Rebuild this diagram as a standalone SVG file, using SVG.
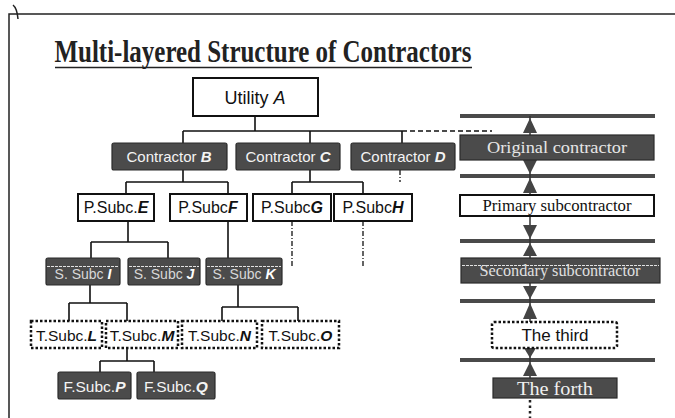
<svg xmlns="http://www.w3.org/2000/svg" width="675" height="418" viewBox="0 0 675 418">
<style>
.frame{fill:none;stroke:#222;stroke-width:1.5}
.ln{fill:none;stroke:#111;stroke-width:1.6}
.dash{fill:none;stroke:#111;stroke-width:1.3;stroke-dasharray:5 3}
.dd{fill:none;stroke:#111;stroke-width:1.3;stroke-dasharray:5 2 1 2}
.dark{fill:#4b4b4b;stroke:#2a2a2a;stroke-width:1.2}
.white{fill:#fff;stroke:#111;stroke-width:2}
.dot{fill:#fff;stroke:#111;stroke-width:2.5;stroke-dasharray:2.5 2}
.t{font-family:"Liberation Sans",Arial,sans-serif;text-anchor:middle}
.tw{fill:#f4f4f4}
.tb{fill:#111}
.L{font-weight:bold;font-style:italic}
.serif{font-family:"Liberation Serif","Times New Roman",serif;text-anchor:middle}
.bar{stroke:#4a4a4a;stroke-width:4}
.ah{fill:#444}
.stripe{stroke:#e2e2e2;stroke-width:1.2;stroke-dasharray:3 1}
</style>

<!-- frame -->
<path class="frame" d="M9,418 V14 H675"/>
<path class="frame" d="M13,5 Q17,8 18,19"/>

<!-- title -->
<g id="title">
<text x="263" y="62" font-family="Liberation Serif,'Times New Roman',serif" font-weight="bold" font-size="32" text-anchor="middle" textLength="417" lengthAdjust="spacingAndGlyphs" fill="#222">Multi-layered Structure of Contractors</text>
<line x1="55" y1="67.5" x2="472" y2="67.5" stroke="#222" stroke-width="1.6"/>
</g>

<!-- connectors -->
<g id="connectors">
<path class="ln" d="M255,116 V131 M183,131 H402 M183,131 V143 M310,131 V143 M402,131 V143"/>
<path class="dash" d="M402,131 H492"/>
<path class="ln" d="M183,170 V182 M126,182 H228 M126,182 V194 M228,182 V194"/>
<path class="ln" d="M310,170 V182 M292,182 H363 M292,182 V194 M363,182 V194"/>
<path class="dd" d="M400,170 V182"/>
<path class="ln" d="M128,221 V242 M91,242 H168 M91,242 V258 M168,242 V258"/>
<path class="ln" d="M228,221 V258"/>
<path class="dd" d="M292,221 V268 M363,221 V268"/>
<path class="ln" d="M90,285 V303 M69,303 H127 M69,303 V321 M127,303 V321"/>
<path class="ln" d="M238,285 V307 M222,307 H298 M222,307 V321 M298,307 V321"/>
<path class="ln" d="M127,348 V361 M100,361 H154 M100,361 V372 M154,361 V372"/>
</g>

<!-- nodes -->
<g id="utilityA"><rect class="white" x="193" y="78" width="125" height="38"/><text class="t tb" x="255" y="104" font-size="18">Utility <tspan font-style="italic">A</tspan></text></g>

<g id="contractorB"><rect class="dark" x="112" y="143" width="115" height="27" rx="2"/><text class="t tw" x="169" y="162" font-size="15">Contractor <tspan class="L">B</tspan></text></g>
<g id="contractorC"><rect class="dark" x="236" y="143" width="104" height="27" rx="2"/><text class="t tw" x="288" y="162" font-size="15">Contractor <tspan class="L">C</tspan></text></g>
<g id="contractorD"><rect class="dark" x="351" y="143" width="104" height="27" rx="2"/><text class="t tw" x="403" y="162" font-size="15">Contractor <tspan class="L">D</tspan></text></g>

<g id="psubcE"><rect class="white" x="78" y="194" width="76" height="27"/><text class="t tb" x="116" y="213" font-size="16">P.Subc.<tspan class="L">E</tspan></text></g>
<g id="psubcF"><rect class="white" x="170" y="194" width="77" height="27"/><text class="t tb" x="208" y="213" font-size="16">P.Subc<tspan class="L">F</tspan></text></g>
<g id="psubcG"><rect class="white" x="253" y="194" width="78" height="27"/><text class="t tb" x="292" y="213" font-size="16">P.Subc<tspan class="L">G</tspan></text></g>
<g id="psubcH"><rect class="white" x="334" y="194" width="78" height="27"/><text class="t tb" x="373" y="213" font-size="16">P.Subc<tspan class="L">H</tspan></text></g>

<g id="ssubcI"><rect class="dark" x="46" y="258" width="74" height="27" rx="2"/><line class="stripe" x1="47" y1="266.5" x2="119" y2="266.5"/><text class="t" fill="#d8d8d8" x="83" y="279" font-size="14">S. Subc <tspan class="L" fill="#fff">I</tspan></text></g>
<g id="ssubcJ"><rect class="dark" x="128" y="258" width="72" height="27" rx="2"/><line class="stripe" x1="129" y1="266.5" x2="199" y2="266.5"/><text class="t" fill="#d8d8d8" x="164" y="279" font-size="14">S. Subc <tspan class="L" fill="#fff">J</tspan></text></g>
<g id="ssubcK"><rect class="dark" x="206" y="258" width="76" height="27" rx="2"/><line class="stripe" x1="207" y1="266.5" x2="281" y2="266.5"/><text class="t" fill="#d8d8d8" x="244" y="279" font-size="14">S. Subc <tspan class="L" fill="#fff">K</tspan></text></g>

<g id="tsubcL"><rect class="dot" x="31" y="321" width="71" height="27"/><text class="t tb" x="66.5" y="341" font-size="15.5">T.Subc.<tspan class="L">L</tspan></text></g>
<g id="tsubcM"><rect class="dot" x="106" y="321" width="72" height="27"/><text class="t tb" x="142" y="341" font-size="15.5">T.Subc.<tspan class="L">M</tspan></text></g>
<g id="tsubcN"><rect class="dot" x="182" y="321" width="75" height="27"/><text class="t tb" x="219.5" y="341" font-size="15.5">T.Subc.<tspan class="L">N</tspan></text></g>
<g id="tsubcO"><rect class="dot" x="262" y="321" width="77" height="27"/><text class="t tb" x="300.5" y="341" font-size="15.5">T.Subc.<tspan class="L">O</tspan></text></g>

<g id="fsubcP"><rect class="dark" x="58" y="372" width="73" height="27" rx="2"/><text class="t tw" x="94.5" y="392" font-size="15.5">F.Subc.<tspan class="L">P</tspan></text></g>
<g id="fsubcQ"><rect class="dark" x="137" y="372" width="78" height="27" rx="2"/><text class="t tw" x="176" y="392" font-size="15.5">F.Subc.<tspan class="L">Q</tspan></text></g>

<!-- right legend -->
<g id="legend">
<line class="bar" x1="460" y1="116" x2="655" y2="116"/>
<line class="bar" x1="460" y1="176" x2="655" y2="176"/>
<line class="bar" x1="460" y1="241" x2="655" y2="241"/>
<line class="bar" x1="460" y1="301" x2="655" y2="301"/>
<line class="bar" x1="460" y1="360" x2="655" y2="360"/>
<line x1="530" y1="116" x2="530" y2="378" stroke="#333" stroke-width="1.5"/>
<line x1="530" y1="400" x2="530" y2="418" stroke="#222" stroke-width="2.5" stroke-dasharray="2.5 3"/>
<polygon class="ah" points="523,133 537,133 530,118"/>
<polygon class="ah" points="523,160 537,160 530,174"/>
<polygon class="ah" points="523,193 537,193 530,178"/>
<polygon class="ah" points="523,225 537,225 530,239"/>
<polygon class="ah" points="523,256 537,256 530,243"/>
<polygon class="ah" points="523,286 537,286 530,299"/>
<polygon class="ah" points="523,319 537,319 530,303"/>
<polygon class="ah" points="524,348 536,348 530,358"/>
<polygon class="ah" points="523,376 537,376 530,362"/>
</g>
<g id="originalContractor"><rect class="dark" x="460" y="135" width="194" height="25"/><text class="serif" fill="#e6e6e6" x="557" y="153" font-size="16" textLength="140" lengthAdjust="spacingAndGlyphs">Original contractor</text></g>
<g id="primarySub"><rect class="white" x="460" y="195" width="194" height="21"/><text class="serif tb" x="557" y="211" font-size="17" textLength="149" lengthAdjust="spacingAndGlyphs">Primary subcontractor</text></g>
<g id="secondarySub"><rect class="dark" x="461" y="258" width="199" height="25"/><line class="stripe" x1="462" y1="265.5" x2="659" y2="265.5"/><text class="serif" fill="#e0e0e0" x="560" y="276" font-size="16" textLength="161" lengthAdjust="spacingAndGlyphs">Secondary subcontractor</text></g>
<g id="theThird"><rect class="dot" x="492" y="322" width="125" height="26" rx="2"/><text class="t tb" x="555" y="341" font-size="17">The third</text></g>
<g id="theForth"><rect class="dark" x="493" y="378" width="124" height="20"/><text class="serif" fill="#f0f0f0" x="555" y="395" font-size="19" textLength="76" lengthAdjust="spacingAndGlyphs">The forth</text></g>
</svg>
